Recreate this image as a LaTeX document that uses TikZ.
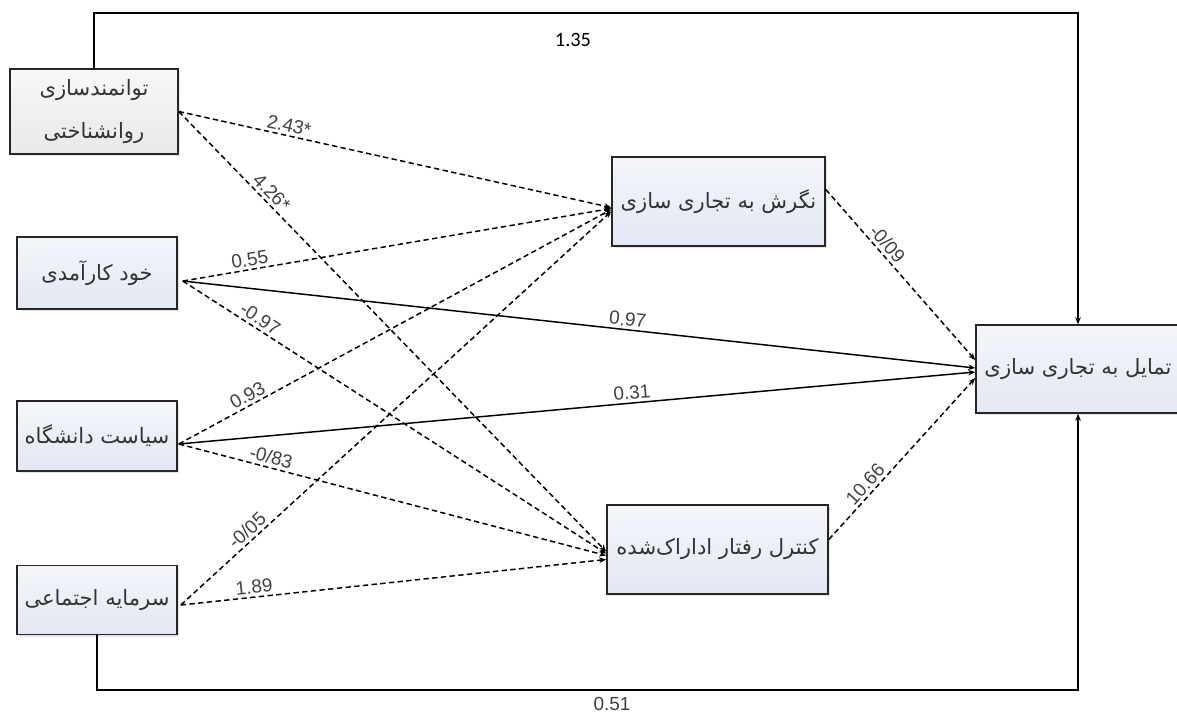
\documentclass[tikz,border=0pt]{standalone}
\usepackage{fontspec}
\setmainfont{Liberation Sans}
\newfontfamily\farsi[Script=Arabic]{DejaVu Sans}
\newfontfamily\calib{Carlito}
\TeXXeTstate=1
\usetikzlibrary{arrows.meta,shadows}

\definecolor{boxtop}{HTML}{F4F6FB}
\definecolor{boxbot}{HTML}{E2E7F2}
\definecolor{greytop}{HTML}{F7F7F7}
\definecolor{greybot}{HTML}{E9E9E9}
\definecolor{coefgrey}{HTML}{404040}

\begin{document}
\begin{tikzpicture}[
        x=0.025cm, y=-0.025cm,
        varbox/.style={draw=black!85, line width=1.1pt, top color=boxtop, bottom color=boxbot,
            drop shadow={opacity=0.2, shadow xshift=1.5pt, shadow yshift=-1.5pt},
            font=\farsi\fontsize{15}{18}\selectfont, text=black!80, align=center, inner sep=0pt},
        greybox/.style={varbox, top color=greytop, bottom color=greybot},
        effect/.style={line width=1.05pt, -{Stealth[length=5pt, width=4pt]}},
        deffect/.style={effect, dash pattern=on 3.8pt off 2.4pt},
        coef/.style={font=\fontsize{13.5}{15}\selectfont, text=coefgrey, sloped, above, inner sep=2pt},
    ]
    \useasboundingbox (0,0) rectangle (1177,713);
    \clip (0,0) rectangle (1177,713);

    % ==========================================
    % INDEPENDENT VARIABLES (left column)
    % ==========================================
    \node[greybox, minimum width=4.2cm, minimum height=2.125cm] (psy) at (94,111.5)
        {\beginR توانمندسازی\endR\\[12pt]\beginR روانشناختی\endR};
    \node[varbox, minimum width=4.0cm, minimum height=1.8cm] (eff) at (97,273)
        {\beginR خود کارآمدی\endR};
    \node[varbox, minimum width=4.0cm, minimum height=1.75cm] (pol) at (97,436)
        {\beginR سیاست  دانشگاه\endR};
    \node[varbox, minimum width=4.0cm, minimum height=1.725cm] (soc) at (97,600)
        {\beginR سرمایه اجتماعی\endR};

    % ==========================================
    % MEDIATORS (middle column)
    % ==========================================
    \node[varbox, minimum width=5.325cm, minimum height=2.225cm] (att) at (718.5,201.5)
        {\beginR نگرش به تجاری سازی\endR};
    \node[varbox, minimum width=5.525cm, minimum height=2.225cm] (pbc) at (717.5,549.5)
        {\beginR کنترل رفتار اداراک‌شده\endR};

    % ==========================================
    % OUTCOME (right)
    % ==========================================
    \node[varbox, minimum width=5.1cm, minimum height=2.2cm] (intent) at (1078,369)
        {\beginR تمایل به تجاری سازی\endR};

    % ==========================================
    % PATHS to attitude
    % ==========================================
    \draw[deffect] (psy.east) -- ([shift={(0,6)}]att.west) node[coef, pos=0.25] {2.43*};
    \draw[deffect] ([shift={(5,8)}]eff.east) -- ([shift={(0,7)}]att.west) node[coef, pos=0.16] {0.55};
    \draw[deffect] ([shift={(1,8)}]pol.east) -- ([shift={(0,8)}]att.west) node[coef, pos=0.17] {0.93};
    \draw[deffect] ([shift={(3,5)}]soc.east) -- ([shift={(0,10)}]att.west) node[coef, pos=0.17] {-0/05};

    % ==========================================
    % PATHS to perceived control
    % ==========================================
    \draw[deffect] (psy.east) -- ([shift={(0,2)}]pbc.west) node[coef, pos=0.2] {4.26*};
    \draw[deffect] ([shift={(5,8)}]eff.east) -- ([shift={(0,4)}]pbc.west) node[coef, pos=0.17] {-0.97};
    \draw[deffect] ([shift={(1,8)}]pol.east) -- ([shift={(0,6)}]pbc.west) node[coef, pos=0.21] {-0/83};
    \draw[deffect] ([shift={(3,5)}]soc.east) -- ([shift={(0,10)}]pbc.west) node[coef, pos=0.175] {1.89};

    % ==========================================
    % PATHS to intention
    % ==========================================
    \draw[effect] ([shift={(5,8)}]eff.east) -- ([shift={(0,-1)}]intent.west) node[coef, pos=0.56] {0.97};
    \draw[effect] ([shift={(1,8)}]pol.east) -- ([shift={(0,3)}]intent.west) node[coef, pos=0.57] {0.31};
    \draw[deffect] ([shift={(0,-12)}]att.east) -- ([shift={(0,-9)}]intent.west) node[coef, pos=0.36] {-0/09};
    \draw[deffect] ([shift={(0,-10)}]pbc.east) -- ([shift={(0,9)}]intent.west) node[coef, pos=0.3] {10.66};

    % ==========================================
    % DIRECT LINKS round the frame
    % ==========================================
    \coordinate (topright) at (1078,13);
    \coordinate (botright) at (1078,690);
    \draw[effect] (psy.north) |- (topright) -- (intent.north);
    \draw[effect] (soc.south) |- (botright) -- (intent.south);
    \node[font=\calib\fontsize{14.5}{16}\selectfont] (toplab) at (573,40) {1.35};
    \node[font=\fontsize{13.5}{15}\selectfont, text=coefgrey] (botlab) at (612,704) {0.51};

\end{tikzpicture}
\end{document}
